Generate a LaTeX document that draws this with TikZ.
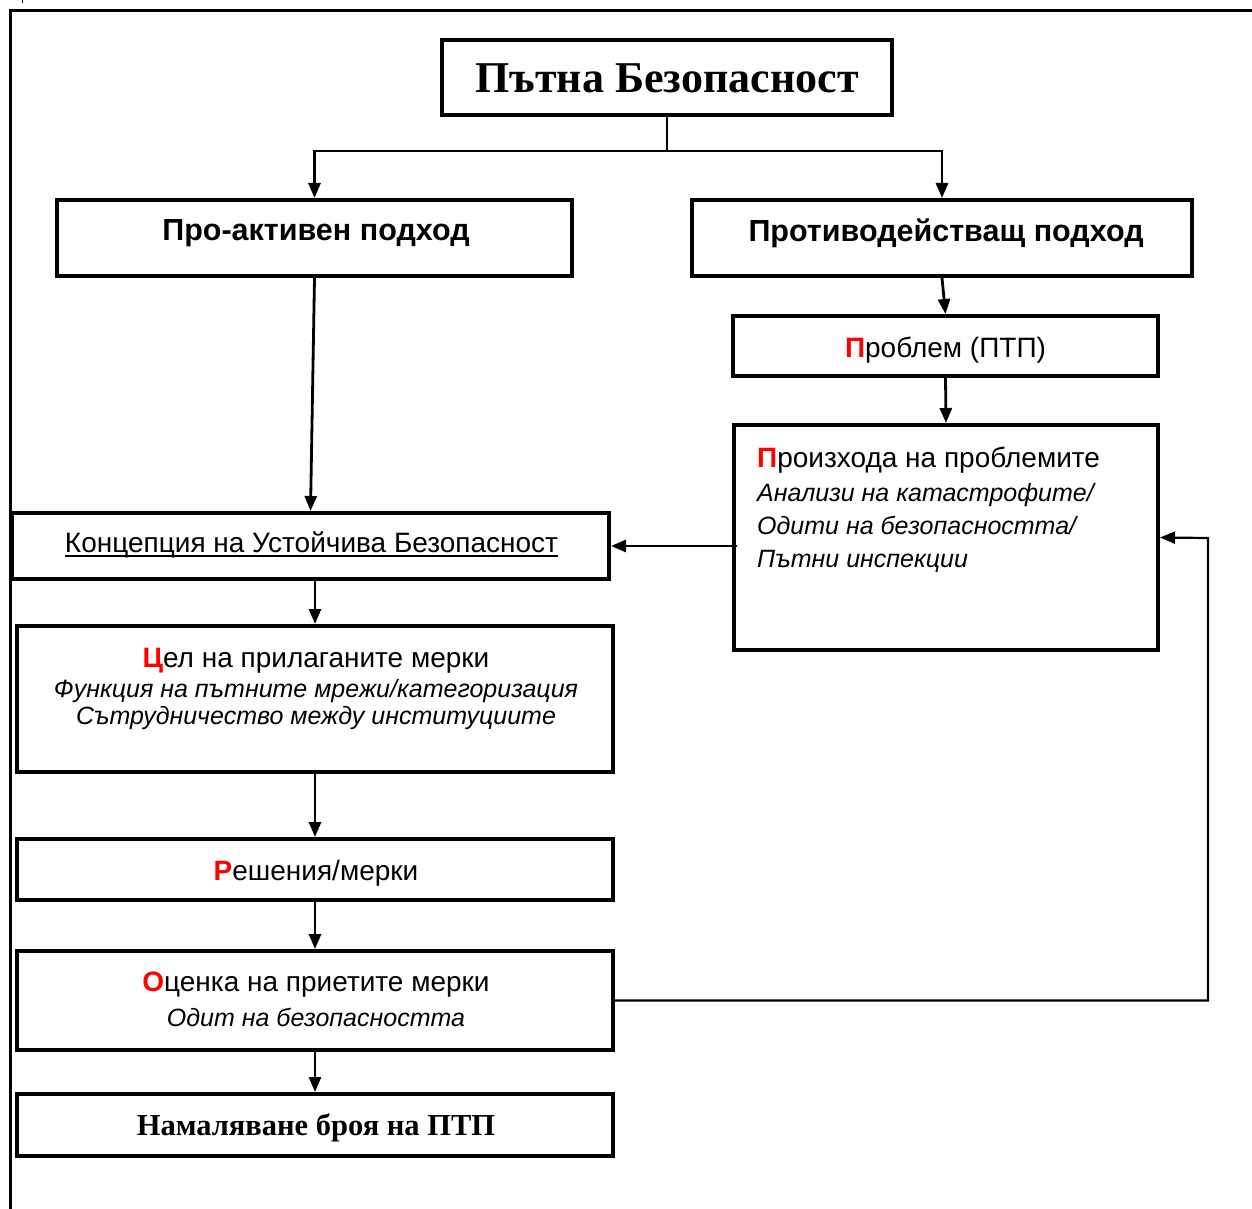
\documentclass[tikz,border=0pt]{standalone}
\usepackage{fontspec}
\setmainfont{Liberation Sans}
\newfontfamily\serifb{Liberation Serif}
\usetikzlibrary{arrows.meta}
\definecolor{redl}{RGB}{255,0,0}
\newcommand{\fs}[1]{\fontsize{#1}{#1}\selectfont}
\newcommand{\rl}[1]{{\color{redl}\bfseries #1}}
\tikzset{
  box/.style={draw, line width=4pt, rectangle, inner sep=0pt},
  conn/.style={line width=2.8pt, -{Triangle[length=15pt,width=12pt]}},
  plain/.style={line width=2.8pt},
  lbl/.style={inner sep=0pt, anchor=base},
  lbll/.style={inner sep=0pt, anchor=base west},
  reg/.style={font=\fs{28}},
  ita/.style={font=\fs{25}\itshape},
  bsans/.style={font=\fs{30.5}\bfseries},
}
\begin{document}
\begin{tikzpicture}[x=1pt,y=-1pt]
\useasboundingbox (0,0) rectangle (1252,1209);
\draw[line width=3pt] (10,1209) -- (10,11) -- (1252,11);
\draw[line width=1pt] (22,0) -- (22,3);

% boxes
\node[box, minimum width=450, minimum height=75] (title) at (667,77.5) {};
\node[lbl] (titleT) at (667,93) {\serifb\bfseries\fs{44}Пътна Безопасност};

\node[box, minimum width=515, minimum height=76] (pro) at (314.5,238) {};
\node[lbl, bsans] (proT) at (316,240) {Про-активен подход};

\node[box, minimum width=500, minimum height=76] (contra) at (942,238) {};
\node[lbl, bsans] (contraT) at (946,241) {Противодействащ подход};

\node[box, minimum width=425, minimum height=60] (problem) at (945.5,346) {};
\node[lbl, reg] (problemT) at (945.5,357) {\rl{П}роблем (ПТП)};

\node[box, minimum width=424, minimum height=225] (origin) at (946,537.5) {};
\node[lbll, reg] (originT1) at (757,467) {\rl{П}роизхода на проблемите};
\node[lbll, ita] (originT2) at (757,501) {Анализи на катастрофите/};
\node[lbll, ita] (originT3) at (757,534) {Одити на безопасността/};
\node[lbll, ita] (originT4) at (757,567) {Пътни инспекции};

\node[box, minimum width=597, minimum height=66] (concept) at (310.5,546) {};
\node[lbl, reg] (conceptT) at (311.5,552) {Концепция на Устойчива Безопасност};
\draw[line width=2pt] ([yshift=-3.5pt]conceptT.base west) -- ([yshift=-3.5pt]conceptT.base east);

\node[box, minimum width=596, minimum height=146] (goal) at (315,699) {};
\node[lbl, reg] (goalT1) at (316,667) {\rl{Ц}ел на прилаганите мерки};
\node[lbl, ita] (goalT2) at (316,697) {Функция на пътните мрежи/категоризация};
\node[lbl, ita] (goalT3) at (316,724) {Сътрудничество между институциите};

\node[box, minimum width=596, minimum height=61] (solutions) at (315,869.5) {};
\node[lbl, reg] (solutionsT) at (316,880) {\rl{Р}ешения/мерки};

\node[box, minimum width=596, minimum height=99] (eval) at (315,1000.5) {};
\node[lbl, reg] (evalT1) at (316,991) {\rl{О}ценка на приетите мерки};
\node[lbl, ita] (evalT2) at (316,1026) {Одит на безопасността};

\node[box, minimum width=596, minimum height=62] (reduce) at (315,1125) {};
\node[lbl] (reduceT) at (316,1135) {\serifb\bfseries\fs{30.5}Намаляване броя на ПТП};

% connectors
\coordinate (split) at (667,151);
\draw[plain] (title.south) -- (split);
\draw[conn] (split) -| (pro.north);
\draw[conn] (split) -| (contra.north);
\draw[conn] (pro.south) -- (concept.north);
\draw[conn] (contra.south) -- (problem.north);
\draw[conn] (problem.south) -- (origin.north);
\draw[conn] ([xshift=5pt]origin.west |- concept.east) -- (concept.east);
\draw[conn] (goal.north |- concept.south) -- (goal.north);
\draw[conn] (goal.south) -- (solutions.north);
\draw[conn] (solutions.south) -- (eval.north);
\draw[conn] (eval.south) -- (reduce.north);
\coordinate (fb) at (1208,538);
\draw[line width=2.2pt, -{Triangle[length=15pt,width=12pt]}] (eval.east) -| (fb) -- (origin.east);
\end{tikzpicture}
\end{document}
